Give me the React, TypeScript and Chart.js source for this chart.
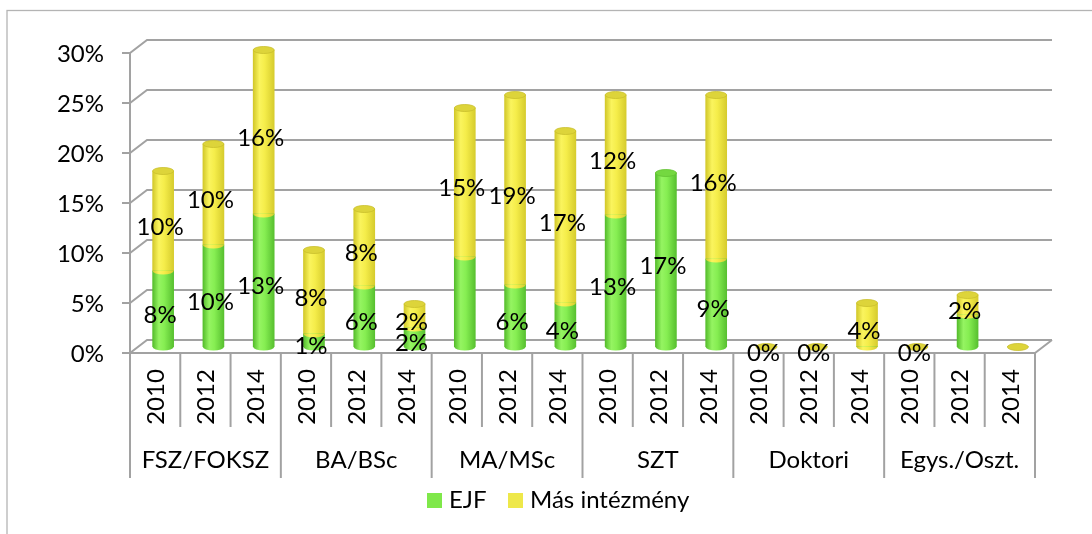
import React, { useEffect, useRef } from 'react';
import { Chart, registerables } from 'chart.js';

Chart.register(...registerables);

// ---- data ----
const groups = ['FSZ/FOKSZ', 'BA/BSc', 'MA/MSc', 'SZT', 'Doktori', 'Egys./Oszt.'];
const years = ['2010', '2012', '2014'];
const seriesNames = ['EJF', 'Más intézmény'];
const ejfValues = [7.6, 10.2, 13.3, 1.3, 6.1, 1.9, 9.0, 6.2, 4.4, 13.2, 17.4, 8.8, 0, 0, 0, 0, 3.2, 0];
const masValues = [10.0, 10.1, 16.4, 8.4, 7.7, 2.4, 14.9, 19.0, 17.2, 12.0, 0, 16.4, 0, 0, 4.4, 0, 2.0, 0];
const ejfLabels = ['8%', '10%', '13%', '1%', '6%', '2%', '', '6%', '4%', '13%', '17%', '9%', '', '', '', '', '', ''];
const masLabels = ['10%', '10%', '16%', '8%', '8%', '2%', '15%', '19%', '17%', '12%', '', '16%', '0%', '0%', '4%', '0%', '2%', ''];
const yTicks = [0, 5, 10, 15, 20, 25, 30];

const categories: string[] = [];
groups.forEach((g) => years.forEach((y) => categories.push(g + ' ' + y)));

// ---- styling ----
const FONT = '24px Lato, "Noto Sans", sans-serif';
const GRID = '#a2a2a2';
const DX = 17;
const DY = -13;
const BAR_DX = 8;
const BAR_DY = -6;
const BAR_W = 21;
const RY = 3.5;
const greenFlat = '#7fe84a';
const yellowFlat = '#eee84a';
const greenStops: [number, string][] = [[0, '#55bd2c'], [0.3, '#95f462'], [0.55, '#86ee52'], [1, '#58c030']];
const yellowStops: [number, string][] = [[0, '#d2c82a'], [0.3, '#faf45e'], [0.55, '#f5ed4a'], [1, '#d6cc2e']];
const greenCap = '#74d840';
const yellowCap = '#ddd43a';

function cylGradient(ctx: CanvasRenderingContext2D, x: number, stops: [number, string][]) {
  const g = ctx.createLinearGradient(x - BAR_W / 2, 0, x + BAR_W / 2, 0);
  stops.forEach(([o, c]) => g.addColorStop(o, c));
  return g;
}

function halfEllipse(ctx: CanvasRenderingContext2D, x: number, y: number, fill: any) {
  ctx.beginPath();
  ctx.ellipse(x, y, BAR_W / 2, RY, 0, 0, Math.PI);
  ctx.closePath();
  ctx.fillStyle = fill;
  ctx.fill();
}

const framePlugin = {
  id: 'frame3d',
  beforeDatasetsDraw(chart: any) {
    const ctx: CanvasRenderingContext2D = chart.ctx;
    const ca = chart.chartArea;
    const ys = chart.scales.y;
    ctx.save();
    // outer border
    ctx.strokeStyle = '#b4b4b4';
    ctx.lineWidth = 1.3;
    ctx.strokeRect(7, 10.5, 1300, 800);
    // back wall gridlines
    ctx.strokeStyle = GRID;
    ctx.lineWidth = 2;
    yTicks.forEach((v) => {
      const yy = ys.getPixelForValue(v);
      ctx.beginPath();
      ctx.moveTo(ca.left - 8, yy);
      ctx.lineTo(ca.left, yy);
      ctx.lineTo(ca.left + DX, yy + DY);
      ctx.lineTo(ca.right + DX, yy + DY);
      ctx.stroke();
    });
    // floor
    const y0 = ys.getPixelForValue(0);
    ctx.beginPath();
    ctx.moveTo(ca.left, y0);
    ctx.lineTo(ca.right, y0);
    ctx.lineTo(ca.right + DX, y0 + DY);
    ctx.stroke();
    // front vertical axis
    ctx.beginPath();
    ctx.moveTo(ca.left, ys.getPixelForValue(30));
    ctx.lineTo(ca.left, y0);
    ctx.stroke();
    ctx.restore();
    // shift bars to mid depth
    ctx.save();
    ctx.translate(BAR_DX, BAR_DY);
  },
  afterDatasetsDraw(chart: any) {
    const ctx: CanvasRenderingContext2D = chart.ctx;
    const m0 = chart.getDatasetMeta(0);
    const m1 = chart.getDatasetMeta(1);
    for (let i = 0; i < categories.length; i++) {
      const e0 = m0.data[i];
      const e1 = m1.data[i];
      const x = e0.x;
      const base = e0.base;
      const g = ejfValues[i];
      const m = masValues[i];
      const gGrad = cylGradient(ctx, x, greenStops);
      const yGrad = cylGradient(ctx, x, yellowStops);
      if (g + m > 0) {
        halfEllipse(ctx, x, base, g > 0 ? gGrad : yGrad);
      }
      if (g > 0 && m > 0) {
        halfEllipse(ctx, x, e0.y, yGrad);
      }
      const topY = m > 0 ? e1.y : g > 0 ? e0.y : base;
      const capColor = m > 0 || g === 0 ? yellowCap : greenCap;
      ctx.beginPath();
      ctx.ellipse(x, topY, BAR_W / 2, RY, 0, 0, Math.PI * 2);
      ctx.fillStyle = capColor;
      ctx.fill();
      ctx.strokeStyle = m > 0 || g === 0 ? '#c9bf2c' : '#62c232';
      ctx.lineWidth = 0.8;
      ctx.stroke();
    }
    ctx.restore();
    // data labels (front coordinates)
    ctx.save();
    ctx.font = FONT;
    ctx.fillStyle = '#000';
    ctx.textAlign = 'center';
    ctx.textBaseline = 'middle';
    for (let i = 0; i < categories.length; i++) {
      const e0 = m0.data[i];
      const e1 = m1.data[i];
      if (ejfLabels[i]) ctx.fillText(ejfLabels[i], e0.x + 5, (e0.y + e0.base) / 2);
      if (masLabels[i]) ctx.fillText(masLabels[i], e1.x + 5, (e1.y + e1.base) / 2);
    }
    ctx.restore();
  },
  afterDraw(chart: any) {
    const ctx: CanvasRenderingContext2D = chart.ctx;
    const ca = chart.chartArea;
    const ys = chart.scales.y;
    const xs = chart.scales.x;
    const y0 = ys.getPixelForValue(0);
    const w = xs.getPixelForValue(1) - xs.getPixelForValue(0);
    ctx.save();
    // y tick labels
    ctx.font = FONT;
    ctx.fillStyle = '#000';
    ctx.textAlign = 'right';
    ctx.textBaseline = 'middle';
    yTicks.forEach((v) => ctx.fillText(v + '%', 104, ys.getPixelForValue(v) + 1));
    // category separators
    ctx.strokeStyle = GRID;
    ctx.lineWidth = 2;
    for (let i = 0; i <= categories.length; i++) {
      const x = ca.left + i * w;
      ctx.beginPath();
      ctx.moveTo(x, y0);
      ctx.lineTo(x, i % years.length === 0 ? 478 : 427);
      ctx.stroke();
    }
    // year labels (rotated)
    for (let i = 0; i < categories.length; i++) {
      const x = xs.getPixelForValue(i);
      ctx.save();
      ctx.translate(x + 1, 397);
      ctx.rotate(-Math.PI / 2);
      ctx.textAlign = 'center';
      ctx.textBaseline = 'middle';
      ctx.fillText(years[i % years.length], 0, 0);
      ctx.restore();
    }
    // group labels
    ctx.textAlign = 'center';
    ctx.textBaseline = 'alphabetic';
    groups.forEach((g, gi) => {
      const cx = ca.left + (gi * 3 + 1.5) * w;
      ctx.fillText(g, cx, 468);
    });
    // legend
    ctx.textAlign = 'left';
    ctx.fillStyle = greenFlat;
    ctx.fillRect(427, 493, 15, 15);
    ctx.fillStyle = yellowFlat;
    ctx.fillRect(508, 493, 15, 15);
    ctx.fillStyle = '#000';
    ctx.fillText(seriesNames[0], 449, 508);
    ctx.fillText(seriesNames[1], 530, 508);
    ctx.restore();
  },
};

export default function App() {
  const ref = useRef<HTMLCanvasElement>(null);
  useEffect(() => {
    const canvas = ref.current!;
    const makeBg = (stops: [number, string][], flat: string) => (c: any) => {
      const ch = c.chart;
      if (!ch.chartArea || c.dataIndex === undefined) return flat;
      const x = ch.scales.x.getPixelForValue(c.dataIndex);
      return cylGradient(ch.ctx, x, stops);
    };
    const chart = new Chart(canvas, {
      type: 'bar',
      data: {
        labels: categories,
        datasets: [
          {
            label: seriesNames[0],
            data: ejfValues,
            backgroundColor: makeBg(greenStops, greenFlat),
            borderWidth: 0,
            barThickness: BAR_W,
          },
          {
            label: seriesNames[1],
            data: masValues,
            backgroundColor: makeBg(yellowStops, yellowFlat),
            borderWidth: 0,
            barThickness: BAR_W,
          },
        ],
      },
      options: {
        responsive: false,
        animation: false,
        layout: { padding: { left: 130, right: 57, top: 53, bottom: 181 } },
        plugins: { legend: { display: false }, tooltip: { enabled: false } },
        scales: {
          x: { stacked: true, display: false },
          y: { stacked: true, display: false, min: 0, max: 30 },
        },
      },
      plugins: [framePlugin],
    });
    let alive = true;
    if ((document as any).fonts && (document as any).fonts.load) {
      (document as any).fonts.load(FONT).then(() => {
        if (alive) chart.update();
      });
    }
    return () => {
      alive = false;
      chart.destroy();
    };
  }, []);
  return (
    <div style={{ position: 'absolute', left: 0, top: 0, width: 1092, height: 534, background: '#fff' }}>
      <canvas ref={ref} width={1092} height={534} style={{ display: 'block', width: 1092, height: 534 }} />
    </div>
  );
}
